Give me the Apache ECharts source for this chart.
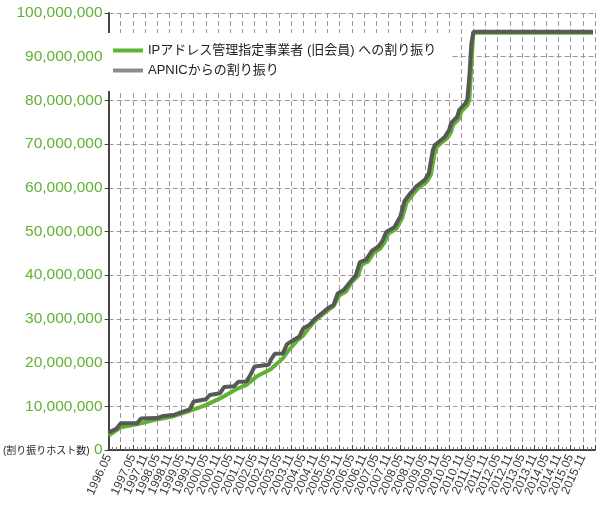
<!DOCTYPE html>
<html><head><meta charset="utf-8">
<script src="https://cdn.jsdelivr.net/npm/echarts@6/dist/echarts.min.js"></script>
<style>html,body{margin:0;padding:0;background:#fff}#c{width:600px;height:513px}</style>
</head><body><div id="c"></div>
<script>
const tickLabels = ['1996.05','1996.11','1997.05','1997.11','1998.05','1998.11','1999.05','1999.11','2000.05','2000.11','2001.05','2001.11','2002.05','2002.11','2003.05','2003.11','2004.05','2004.11','2005.05','2005.11','2006.05','2006.11','2007.05','2007.11','2008.05','2008.11','2009.05','2009.11','2010.05','2010.11','2011.05','2011.11','2012.05','2012.11','2013.05','2013.11','2014.05','2014.11','2015.05','2015.11'];

const apnicDates = ['1996.05','1996.09','1996.11','1997.07','1997.09','1998.05','1998.08','1999.01','1999.04','1999.09','1999.11','2000.05','2000.07','2000.12','2001.02','2001.07','2001.09','2002.01','2002.03','2002.05','2002.12','2003.01','2003.03','2003.07','2003.09','2003.12','2004.03','2004.05','2004.08','2004.11','2005.02','2005.05','2005.08','2005.10','2006.01','2006.05','2006.07','2006.09','2006.12','2007.03','2007.06','2007.08','2007.10','2008.02','2008.05','2008.07','2008.10','2009.01','2009.05','2009.07','2009.08','2009.09','2009.10','2010.01','2010.03','2010.05','2010.06','2010.09','2010.10','2011.01','2011.02','2011.03','2011.04','2011.05','2016.04'];
const apnicValues = [4000000,4900000,6100000,6100000,7200000,7300000,7800000,8000000,8500000,9300000,11100000,11600000,12600000,13000000,14400000,14600000,15600000,15700000,17200000,19100000,19500000,20600000,22000000,22100000,24200000,25100000,25900000,27800000,28600000,30100000,31200000,32400000,33200000,35800000,36600000,38900000,40000000,43000000,43500000,45600000,46500000,47700000,49900000,51000000,53500000,57000000,58800000,60400000,61800000,63300000,66000000,68600000,69800000,70900000,71700000,73200000,74800000,76300000,77800000,79300000,80200000,85400000,93000000,95700000,95700000];

const memberDates = ['1996.05','1996.11','1997.07','1998.04','1998.12','1999.08','2000.04','2000.12','2001.08','2002.01','2002.06','2003.01','2003.07','2003.10','2004.02','2004.05','2004.08','2004.11','2005.02','2005.05','2005.08','2005.11','2006.02','2006.05','2006.08','2006.10','2007.01','2007.04','2007.07','2007.09','2007.11','2008.03','2008.06','2008.08','2008.11','2009.02','2009.06','2009.08','2009.10','2009.11','2010.02','2010.04','2010.06','2010.07','2010.10','2010.11','2011.02','2011.03','2011.04','2011.05','2016.04'];
const memberValues = [3300000,5200000,5900000,6900000,7600000,8800000,10100000,11800000,13900000,14900000,16800000,18500000,21000000,22900000,25000000,26200000,28000000,29600000,30800000,31900000,32900000,35400000,36200000,38400000,39800000,42500000,43100000,45200000,46100000,47400000,49500000,50600000,53200000,56600000,58400000,60000000,61400000,63000000,68200000,69400000,70600000,71300000,72800000,74400000,75900000,77400000,78900000,80000000,88000000,95500000,95500000];

const seriesNames = ['IPアドレス管理指定事業者 (旧会員) への割り振り','APNICからの割り振り'];
const yAxisName = '(割り振りホスト数)';

function monthIndex(s){ const p = s.split('.'); return (parseInt(p[0])-1996)*12 + (parseInt(p[1])-5); }
function pairs(d, v){ return d.map((s,i)=>[monthIndex(s), v[i]]); }

const FONT = "'Liberation Sans','Noto Sans CJK JP',sans-serif";
const chart = echarts.init(document.getElementById('c'), null, {renderer:'canvas'});
chart.setOption({
  animation:false,
  grid:{left:103, right:5, top:13, bottom:63, containLabel:false},
  legend:{
    orient:'vertical', left:103, top:33, backgroundColor:'#fff',
    padding:[11,15,14,10], itemGap:7, itemWidth:30, itemHeight:4,
    textStyle:{fontSize:13, color:'#222', fontFamily:FONT},
    data:[
      {name:seriesNames[0], icon:'rect', itemStyle:{color:'#5fb233'}},
      {name:seriesNames[1], icon:'rect', itemStyle:{color:'#8a8a8a'}}
    ]
  },
  xAxis:{
    type:'value', min:0, max:240, interval:6,
    axisLine:{show:true, onZero:false, lineStyle:{color:'#444', width:2}},
    axisTick:{show:true, inside:true, length:5, lineStyle:{color:'#444'}},
    minorTick:{show:true, splitNumber:3, length:3, lineStyle:{color:'#777'}},
    splitLine:{show:true, lineStyle:{color:'#999', type:[5,3], width:1}},
    axisLabel:{rotate:65, fontSize:12, color:'#333', margin:5, fontFamily:FONT,
      showMinLabel:true, showMaxLabel:true, hideOverlap:false,
      formatter:function(v){ const i = Math.round(v/6); return i < tickLabels.length ? tickLabels[i] : ''; }}
  },
  yAxis:{
    type:'value', min:0, max:100000000, interval:10000000,
    axisLine:{show:true, lineStyle:{color:'#444', width:2}},
    axisTick:{show:true, length:4, lineStyle:{color:'#444'}},
    splitLine:{show:true, lineStyle:{color:'#999', type:[5,3], width:1}},
    axisLabel:{fontSize:15.5, color:'#5fb233', margin:6, fontFamily:FONT,
      formatter:function(v){ return v === 0 ? '{n|' + yAxisName + '} 0' : v.toLocaleString('en-US'); },
      rich:{n:{fontSize:10, color:'#222', fontFamily:FONT, padding:[3,0,0,0]}}
    }
  },
  series:[
    {name:seriesNames[0], type:'line', showSymbol:false, symbol:'none', data:pairs(memberDates, memberValues),
     lineStyle:{color:'#5fb233', width:4}, itemStyle:{color:'#5fb233'}},
    {name:seriesNames[1], type:'line', showSymbol:false, symbol:'none', data:pairs(apnicDates, apnicValues),
     lineStyle:{color:'#585858', width:4}, itemStyle:{color:'#585858'}}
  ]
});
</script></body></html>
